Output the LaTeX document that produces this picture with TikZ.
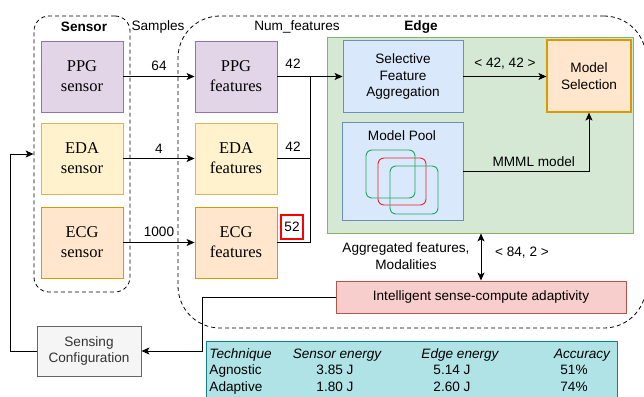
\documentclass[tikz,border=0pt]{standalone}
\usepackage{fontspec}
\setmainfont{Liberation Serif}
\setsansfont{Liberation Sans}
\usetikzlibrary{arrows.meta}

\definecolor{ppgfill}{HTML}{E1D5E7}\definecolor{ppgline}{HTML}{9673A6}
\definecolor{edafill}{HTML}{FFF2CC}\definecolor{edaline}{HTML}{D6B656}
\definecolor{ecgfill}{HTML}{FFE6CC}\definecolor{ecgline}{HTML}{D79B00}
\definecolor{edgefill}{HTML}{D5E8D4}\definecolor{edgeline}{HTML}{82B366}
\definecolor{blufill}{HTML}{DAE8FC}\definecolor{bluline}{HTML}{6C8EBF}
\definecolor{redfill}{HTML}{F8CECC}\definecolor{redline}{HTML}{B85450}
\definecolor{tblfill}{HTML}{B0E3E6}\definecolor{tblline}{HTML}{0E8088}
\definecolor{poolgreen}{HTML}{1FA55E}\definecolor{poolred}{HTML}{E8262B}
\definecolor{markred}{HTML}{FF0000}

\begin{document}
\begin{tikzpicture}[x=1pt, y=-1pt, line width=0.9pt, >={Stealth[length=8pt,width=7pt,inset=2pt]},
	every node/.style={font=\fontsize{13.6}{16.5}\sffamily, inner sep=0pt, align=center},
	blk/.style={draw, minimum width=82pt, minimum height=71pt, font=\fontsize{16.5}{20}\rmfamily},
	grp/.style={draw, dash pattern=on 4pt off 3pt, line width=0.8pt},
	lbl/.style={font=\fontsize{13.6}{16.5}\sffamily\bfseries}]
	\useasboundingbox (0,0) rectangle (644,396);
	% groups
	\node[grp, rounded corners=15pt, minimum width=96pt, minimum height=276pt] (sensgrp) at (82,154) {};
	\node[grp, rounded corners=42pt, minimum width=468pt, minimum height=312pt] (edgegrp) at (412,172) {};
	\node[lbl] (senst) at (84,27) {Sensor};
	\node (samp) at (158,27) {Samples};
	\node (numf) at (297,27) {Num\_features};
	\node[lbl] (edget) at (421,27) {Edge};
	% sensors and features
	\foreach \n/\t/\y/\f/\d in {ppg/PPG/76.5/ppgfill/ppgline, eda/EDA/158.5/edafill/edaline, ecg/ECG/242.5/ecgfill/ecgline} {
		\node[blk, fill=\f, draw=\d] (\n-sen) at (82,\y) {\t\\sensor};
		\node[blk, fill=\f, draw=\d] (\n-feat) at (236,\y) {\t\\features};
	}
	\foreach \n/\s in {ppg/64, eda/4, ecg/1000} {\draw[->] (\n-sen) -- node[above=5pt] {\s} (\n-feat);}
	% edge node
	\node[draw=edgeline, fill=edgefill, minimum width=306pt, minimum height=196pt] (edge) at (480.5,135) {};
	\node[draw=bluline, fill=blufill, minimum width=120pt, minimum height=72pt] (sfa) at (403,76.5) {Selective\\Feature\\Aggregation};
	\node[draw=ecgline, fill=ecgfill, line width=1.2pt, minimum width=84pt, minimum height=72pt] (msel) at (589,76) {Model\\Selection};
	\node[draw=bluline, fill=blufill, minimum width=121pt, minimum height=98pt] (pool) at (402.5,171.5) {};
	\node (poolt) at (402,136) {Model Pool};
	\draw[poolgreen, rounded corners=6pt] (366,150) rectangle (415,198);
	\draw[poolred, rounded corners=6pt] (378,158) rectangle (426,205);
	\draw[poolgreen, rounded corners=6pt] (390,166) rectangle (438,214);
	% feature bus
	\coordinate (bus) at (310,76.5);
	\draw (ppg-feat.east) -- (bus);
	\draw (eda-feat.east) -| (bus);
	\draw (ecg-feat.east) -| (bus);
	\draw[->] (bus) -- (sfa.west);
	\node (n42a) at (293,64) {42};
	\node (n42b) at (293,147) {42};
	\node[draw=markred, line width=1.3pt, minimum width=22pt, minimum height=24pt] (n52) at (292,227) {52};
	\draw[->] (sfa.east) -- node[above=7pt] {< 42, 42 >} (msel.west |- sfa.east);
	\draw[->] (pool.east) -| node[pos=0.28, above=4pt] {MMML model} (msel.south);
	% adaptivity loop
	\node[draw=redline, fill=redfill, minimum width=290pt, minimum height=32pt] (adapt) at (481,297) {Intelligent sense-compute adaptivity};
	\draw[<->] (adapt.north |- edge.south) -- (adapt.north);
	\node (aggr) at (406,256) {Aggregated features,\\Modalities};
	\node (dims) at (522,253) {< 84, 2 >};
	\node[draw=black!60, fill=black!4, text=black!80, minimum width=104pt, minimum height=50pt] (sconf) at (89,351) {Sensing\\Configuration};
	\coordinate (turn) at (202,297);
	\draw[->] (adapt.west) -- (turn) |- (sconf.east);
	\coordinate (back) at (10,154);
	\draw[->] (sconf.west) -| (back) -- (sensgrp.west);
	% results table
	\draw[tblline, fill=tblfill] (206,341) rectangle (617,402);
	\node[anchor=base west, font=\fontsize{13.6}{16.5}\sffamily\itshape] (th0) at (209,358) {Technique};
	\foreach \t/\x [count=\i] in {Sensor energy/337, Edge energy/460, Accuracy/582} {\node[anchor=base, font=\fontsize{13.6}{16.5}\sffamily\itshape] (th\i) at (\x,358) {\t};}
	\foreach \r/\a/\b/\c/\y in {Agnostic/3.85 J/5.14 J/51\%/374, Adaptive/1.80 J/2.60 J/74\%/391} {
		\node[anchor=base west] (r-\r) at (209,\y) {\r};
		\node[anchor=base] at (335,\y) {\a};
		\node[anchor=base] at (452,\y) {\b};
		\node[anchor=base] at (574,\y) {\c};
	}
\end{tikzpicture}
\end{document}
